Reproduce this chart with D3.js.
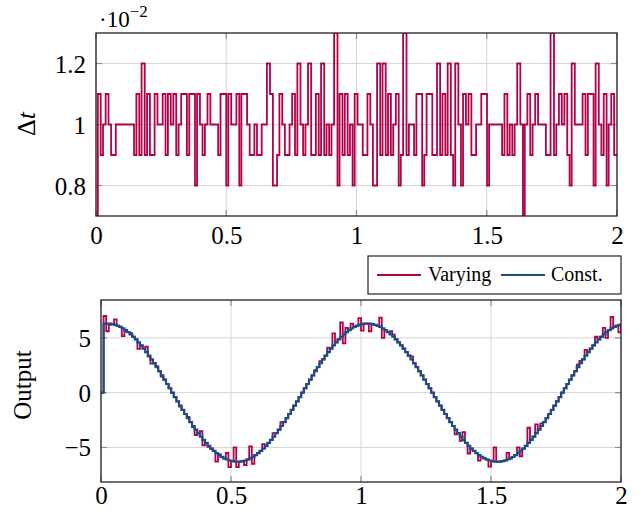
<!DOCTYPE html>
<html>
<head>
<meta charset="utf-8">
<script src="https://cdn.jsdelivr.net/npm/d3@7"></script>
<style>
  body { margin: 0; background: #fff; }
  svg text { font-family: "Liberation Serif", "Times New Roman", "DejaVu Serif", serif; fill: #000; }
</style>
</head>
<body>
<script>
/* ----------------------
Data.
dtValues are in units of 1e-2, one entry per solver step.
* ----------------------- */
const dtValues = [
  0.7, 1.1, 0.9, 1.0, 1.1, 1.0, 0.9, 0.9, 1.0, 1.0, 1.0, 1.0, 1.0, 1.0, 1.0, 0.9, 1.1, 0.9, 1.2, 0.9, 1.1, 0.9,
  0.9, 1.1, 1.0, 1.0, 1.1, 0.9, 1.1, 1.0, 1.1, 0.9, 1.0, 1.1,
  1.1, 0.9, 1.1, 1.1, 0.8, 1.1, 1.0, 0.9, 1.0, 1.1, 1.0, 1.0, 1.0, 0.9, 1.1, 1.1, 0.8, 1.1, 1.0, 1.0,
  1.1, 0.8, 1.1, 1.1, 1.0, 0.9, 0.9, 1.0, 0.9, 0.9, 1.0, 1.0, 1.2, 1.1,
  0.8, 0.8, 0.9, 1.1, 1.0, 0.9, 0.9, 1.0, 1.1, 0.9, 1.2, 1.0, 0.9, 1.0, 1.2, 0.9, 0.9, 1.1, 0.9, 1.2,
  0.9, 1.0, 0.9, 1.0, 1.3, 0.8, 1.1, 0.9, 1.1, 0.9, 1.0, 0.8, 1.1, 1.0, 1.0, 0.9,
  0.9, 1.1, 1.0, 0.8, 0.8, 1.2, 0.9, 1.2, 0.9, 1.1, 0.9, 1.0, 1.1, 0.8, 0.9, 1.3, 0.9, 1.0, 1.0, 0.9,
  1.1, 1.1, 0.8, 0.9, 1.1, 1.1, 0.9, 0.9, 1.2, 0.9, 1.1, 0.9, 1.2, 0.9,
  0.8, 1.2, 1.0, 0.8, 1.1, 1.0, 1.1, 0.9, 0.9, 1.0, 1.0, 1.1, 1.1, 0.8, 1.0, 1.0, 1.0, 1.0, 1.0, 0.9,
  1.1, 0.9, 1.0, 0.9, 1.0, 1.2, 1.0, 0.7, 1.0, 1.1, 0.9, 1.0, 1.1, 1.0, 1.0,
  1.0, 0.9, 0.9, 1.3, 0.9, 1.0, 1.1, 1.0, 1.1, 0.9, 0.8, 1.2, 1.0, 1.0, 1.0, 1.1, 0.9, 1.1, 1.1, 0.8,
  1.2, 1.0, 0.9, 1.1, 0.8, 1.0, 1.1, 0.9
];

// output sampled every 0.01 s, t = 0 .. 2
const outStep = 0.01;
const constOut = [
  0, 6.29,
  6.30, 6.29, 6.25, 6.19, 6.10, 5.99, 5.86, 5.70, 5.52, 5.32, 5.10, 4.85, 4.59, 4.31, 4.02, 3.70, 3.38, 3.04,
  2.68, 2.32, 1.95, 1.57, 1.18, 0.79, 0.40, 0.00,
  -0.40, -0.79, -1.18, -1.57, -1.95, -2.32, -2.68, -3.04, -3.38, -3.70, -4.02, -4.31, -4.59, -4.85, -5.10, -5.32,
  -5.52, -5.70, -5.86, -5.99, -6.10, -6.19, -6.25, -6.29, -6.30,
  -6.29, -6.25, -6.19, -6.10, -5.99, -5.86, -5.70, -5.52, -5.32, -5.10, -4.85, -4.59, -4.31, -4.02, -3.70, -3.38,
  -3.04, -2.68, -2.32, -1.95, -1.57, -1.18, -0.79, -0.40, 0.00,
  0.40, 0.79, 1.18, 1.57, 1.95, 2.32, 2.68, 3.04, 3.38, 3.70, 4.02, 4.31, 4.59, 4.85, 5.10, 5.32,
  5.52, 5.70, 5.86, 5.99, 6.10, 6.19, 6.25, 6.29, 6.30,
  6.29, 6.25, 6.19, 6.10, 5.99, 5.86, 5.70, 5.52, 5.32, 5.10, 4.85, 4.59, 4.31, 4.02, 3.70, 3.38,
  3.04, 2.68, 2.32, 1.95, 1.57, 1.18, 0.79, 0.40, 0.00,
  -0.40, -0.79, -1.18, -1.57, -1.95, -2.32, -2.68, -3.04, -3.38, -3.70, -4.02, -4.31, -4.59, -4.85, -5.10, -5.32,
  -5.52, -5.70, -5.86, -5.99, -6.10, -6.19, -6.25, -6.29, -6.30,
  -6.29, -6.25, -6.19, -6.10, -5.99, -5.86, -5.70, -5.52, -5.32, -5.10, -4.85, -4.59, -4.31, -4.02, -3.70, -3.38,
  -3.04, -2.68, -2.32, -1.95, -1.57, -1.18, -0.79, -0.40, 0.00,
  0.40, 0.79, 1.18, 1.57, 1.95, 2.32, 2.68, 3.04, 3.38, 3.70, 4.02, 4.31, 4.59, 4.85, 5.10, 5.32,
  5.52, 5.70, 5.86, 5.99, 6.10, 6.19, 6.25
];
const varyOut = [
  0, 6.99,
  5.60, 6.19, 6.25, 6.69, 6.10, 5.99, 5.16, 5.60, 5.52, 5.42, 5.10, 4.85, 3.99, 4.31, 4.02, 4.20, 3.28, 2.64,
  2.68, 2.42, 1.95, 1.47, 1.18, 0.79, 0.40, -0.05,
  -0.40, -0.79, -1.28, -1.57, -1.95, -2.22, -2.68, -3.14, -3.88, -3.70, -3.52, -4.81, -4.59, -4.95, -5.10, -5.32,
  -6.30, -5.60, -5.86, -5.99, -5.50, -6.80, -6.25, -5.00, -6.80,
  -6.29, -6.25, -6.60, -6.10, -4.90, -6.50, -5.70, -5.52, -5.32, -4.70, -4.85, -4.59, -4.31, -3.70, -3.70, -3.38,
  -2.70, -2.68, -2.32, -1.95, -1.57, -1.18, -0.79, -0.40, 0.00,
  0.40, 0.79, 1.18, 1.57, 2.05, 2.32, 2.88, 3.04, 3.38, 4.10, 4.02, 5.40, 4.59, 4.85, 6.40, 4.50,
  5.90, 5.70, 6.30, 5.99, 6.10, 6.80, 5.65, 6.29, 6.30,
  5.60, 6.25, 6.19, 6.10, 6.85, 5.00, 5.70, 5.52, 5.60, 5.30, 4.85, 4.59, 4.31, 4.02, 3.70, 3.38,
  3.30, 2.68, 2.32, 1.95, 1.57, 1.18, 0.79, 0.40, 0.00,
  -0.40, -0.79, -1.18, -1.57, -1.95, -2.32, -2.68, -3.04, -3.80, -3.70, -4.40, -3.60, -4.59, -5.55, -5.10, -5.32,
  -5.52, -6.20, -5.86, -5.99, -6.10, -6.75, -6.25, -5.00, -6.30,
  -6.29, -6.25, -6.19, -5.50, -5.99, -5.86, -5.70, -5.00, -5.80, -5.10, -4.85, -3.20, -4.31, -4.02, -2.90, -3.38,
  -2.80, -2.68, -2.32, -1.95, -1.57, -1.18, -0.79, -0.40, 0.00,
  0.40, 0.79, 1.18, 1.57, 1.95, 2.55, 2.90, 3.04, 3.90, 3.70, 4.02, 4.31, 5.10, 4.85, 5.10, 5.90,
  5.00, 5.70, 6.90, 5.99, 6.10, 5.50, 6.25
];

const xTicks = [0, 0.5, 1, 1.5, 2];
const dtTicks = [0.8, 1, 1.2];
const outTicks = [-5, 0, 5];
const seriesNames = ["Varying", "Const."];

const colVary = "#b3004b";
const colConst = "#1b4c86";
const gridCol = "#d6d6d6";
const tickCol = "#8c8c8c";
const serif = '"Liberation Serif", "Times New Roman", "DejaVu Serif", serif';

const W = 639, H = 512;
const svg = d3.select("body").append("svg")
  .attr("width", W).attr("height", H)
  .attr("font-family", serif);

// one panel = frame, grid, ticks, labels
function makePanel(id, box, xDomain, yDomain, yTickVals, xPad) {
  const x = d3.scaleLinear().domain(xDomain).range([box.left, box.right]);
  const y = d3.scaleLinear().domain(yDomain).range([box.bottom, box.top]);
  const g = svg.append("g");

  g.append("clipPath").attr("id", id)
    .append("rect")
    .attr("x", box.left).attr("y", box.top)
    .attr("width", box.right - box.left).attr("height", box.bottom - box.top);

  // grid lines
  g.selectAll(".vgrid").data(xTicks).enter().append("line")
    .attr("x1", d => x(d)).attr("x2", d => x(d))
    .attr("y1", box.top).attr("y2", box.bottom)
    .attr("stroke", gridCol).attr("stroke-width", 1);
  g.selectAll(".hgrid").data(yTickVals).enter().append("line")
    .attr("x1", box.left).attr("x2", box.right)
    .attr("y1", d => y(d)).attr("y2", d => y(d))
    .attr("stroke", gridCol).attr("stroke-width", 1);

  // small inner ticks on all four sides
  const tl = 6;
  xTicks.forEach(d => {
    g.append("line").attr("x1", x(d)).attr("x2", x(d))
      .attr("y1", box.bottom).attr("y2", box.bottom - tl)
      .attr("stroke", tickCol).attr("stroke-width", 1.2);
    g.append("line").attr("x1", x(d)).attr("x2", x(d))
      .attr("y1", box.top).attr("y2", box.top + tl)
      .attr("stroke", tickCol).attr("stroke-width", 1.2);
  });
  yTickVals.forEach(d => {
    g.append("line").attr("x1", box.left).attr("x2", box.left + tl)
      .attr("y1", y(d)).attr("y2", y(d))
      .attr("stroke", tickCol).attr("stroke-width", 1.2);
    g.append("line").attr("x1", box.right).attr("x2", box.right - tl)
      .attr("y1", y(d)).attr("y2", y(d))
      .attr("stroke", tickCol).attr("stroke-width", 1.2);
  });

  // tick labels through d3 axes, no domain line, no tick lines
  const xAxis = g.append("g")
    .attr("transform", `translate(0,${box.bottom})`)
    .call(d3.axisBottom(x).tickValues(xTicks).tickSize(0).tickPadding(xPad)
      .tickFormat(d3.format("~g")));
  const yAxis = g.append("g")
    .attr("transform", `translate(${box.left},0)`)
    .call(d3.axisLeft(y).tickValues(yTickVals).tickSize(0).tickPadding(10)
      .tickFormat(d3.format("~g")));
  [xAxis, yAxis].forEach(a => {
    a.attr("font-family", serif);
    a.select(".domain").remove();
    a.selectAll("text")
      .attr("font-family", serif)
      .style("font-size", "25px")
      .attr("fill", "#000");
  });
  yAxis.selectAll("text").attr("dy", "0.34em");
  xAxis.selectAll("text").attr("dy", "0.72em");

  return { x, y, g, box, id };
}

function drawFrame(p) {
  p.g.append("rect")
    .attr("x", p.box.left).attr("y", p.box.top)
    .attr("width", p.box.right - p.box.left)
    .attr("height", p.box.bottom - p.box.top)
    .attr("fill", "none").attr("stroke", "#222").attr("stroke-width", 1.3);
}

/* ---------- top panel: step size ---------- */
const topP = makePanel("clipTop",
  { left: 96, right: 617, top: 33, bottom: 216 },
  [0, 2], [0.7, 1.3], dtTicks, 10);

// cumulative time for each step
let tAcc = 0;
const dtPts = dtValues.map(v => {
  const p = [tAcc, v];
  tAcc += v * 0.01;
  return p;
});
dtPts.push([Math.max(tAcc, 2), dtValues[dtValues.length - 1]]);

const stepLine = d3.line()
  .x(d => topP.x(d[0])).y(d => topP.y(d[1]))
  .curve(d3.curveStepAfter);

topP.g.append("path")
  .attr("d", stepLine(dtPts))
  .attr("clip-path", "url(#clipTop)")
  .attr("fill", "none")
  .attr("stroke", colVary)
  .attr("stroke-width", 1.8)
  .attr("stroke-linejoin", "miter");
drawFrame(topP);

// the 10^-2 multiplier
const mult = svg.append("text")
  .attr("x", 99).attr("y", 27)
  .style("font-size", "23px");
mult.append("tspan").text("\u00B710");
mult.append("tspan").attr("dy", -10).style("font-size", "17px").text("\u22122");

// Δt label
svg.append("text")
  .attr("transform", "translate(35,124) rotate(-90)")
  .attr("text-anchor", "middle")
  .style("font-size", "26px")
  .html('\u0394<tspan font-style="italic">t</tspan>');

/* ---------- bottom panel: output ---------- */
const botP = makePanel("clipBot",
  { left: 101, right: 621, top: 300, bottom: 482 },
  [0, 2], [-8.15, 8.45], outTicks, 4);

const outLine = d3.line()
  .x((d, i) => botP.x(Math.min(i * outStep, 2)))
  .y(d => botP.y(d))
  .curve(d3.curveStepAfter);

botP.g.append("path")
  .attr("d", outLine(varyOut))
  .attr("clip-path", "url(#clipBot)")
  .attr("fill", "none").attr("stroke", colVary).attr("stroke-width", 1.8);
botP.g.append("path")
  .attr("d", outLine(constOut))
  .attr("clip-path", "url(#clipBot)")
  .attr("fill", "none").attr("stroke", colConst).attr("stroke-width", 2.2);
drawFrame(botP);

svg.append("text")
  .attr("transform", "translate(31,385) rotate(-90)")
  .attr("text-anchor", "middle")
  .style("font-size", "25px")
  .text("Output");

/* ---------- legend ---------- */
const leg = svg.append("g");
leg.append("rect")
  .attr("x", 368).attr("y", 256).attr("width", 253).attr("height", 38)
  .attr("fill", "#fff").attr("stroke", "#222").attr("stroke-width", 1.2);
const legItems = [
  { name: seriesNames[0], col: colVary, w: 1.8, x0: 377, x1: 421, tx: 428 },
  { name: seriesNames[1], col: colConst, w: 2.2, x0: 501, x1: 545, tx: 551 }
];
legItems.forEach(it => {
  leg.append("line")
    .attr("x1", it.x0).attr("x2", it.x1).attr("y1", 275).attr("y2", 275)
    .attr("stroke", it.col).attr("stroke-width", it.w);
  leg.append("text")
    .attr("x", it.tx).attr("y", 281)
    .style("font-size", "20px")
    .text(it.name);
});
</script>
</body>
</html>
